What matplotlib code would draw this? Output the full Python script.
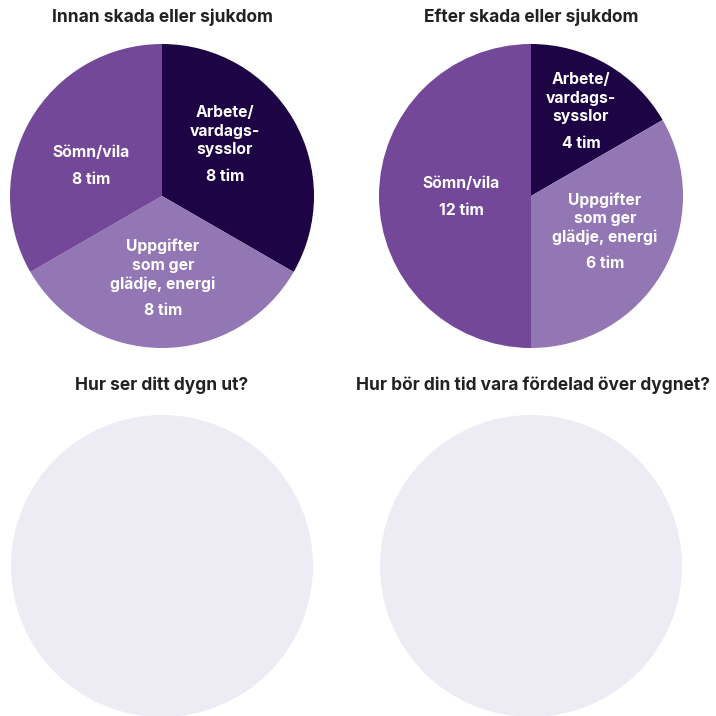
import matplotlib
matplotlib.use("Agg")
import matplotlib.pyplot as plt

plt.rcParams['font.family'] = ['Inter', 'DejaVu Sans']

# data
categories = ["Arbete/\nvardags-\nsysslor", "Uppgifter\nsom ger\nglädje, energi", "Sömn/vila"]
hours_before = [8, 8, 8]
slices_after = [4, 8, 12]          # slice sizes as drawn in the picture
hours_after = [4, 6, 12]           # hours printed on the slices
titles = ["Innan skada eller sjukdom", "Efter skada eller sjukdom",
          "Hur ser ditt dygn ut?", "Hur bör din tid vara fördelad över dygnet?"]

colors = ["#1d0444", "#9277b4", "#734899"]
empty_col = "#edebf4"
W = H = 716

fig = plt.figure(figsize=(7.16, 7.16), dpi=100)
ax = fig.add_axes([0, 0, 1, 1])

R = 152
centers = [(162, 196), (531, 196), (162, 566), (531, 566)]
# label offsets from pie centre (px, screen down = +)
offs_before = [(63, -83), (1, 51), (-71, -43)]
offs_after = [(50, -116), (74, 4), (-70, -12)]
LINE = 18.5


def draw_pie(cx, cy, sizes, hours, offs):
    c = (cx, H - cy)
    ax.pie(sizes, colors=colors, center=c, radius=R, startangle=90,
           counterclock=False, wedgeprops=dict(linewidth=0))
    for name, h, (dx, dy) in zip(categories, hours, offs):
        x = cx + dx
        y0 = cy + dy
        nl = name.count("\n")
        ax.text(x, H - (y0 - 8), name, ha="center", va="top", color="white",
                fontsize=11.3, fontweight="bold", linespacing=1.3)
        ax.text(x, H - (y0 + nl * LINE + 27 - 8), f"{h} tim", ha="center", va="top",
                color="white", fontsize=11.3, fontweight="bold")


draw_pie(*centers[0], hours_before, hours_before, offs_before)
draw_pie(*centers[1], slices_after, hours_after, offs_after)

for cx, cy in centers[2:]:
    ax.add_patch(plt.Circle((cx, H - cy), R - 1, color=empty_col, lw=0))

title_y = [17, 17, 385, 385]
title_x = [162, 531, 162, 533]
for t, tx, ty in zip(titles, title_x, title_y):
    ax.text(tx, H - ty, t, ha="center", va="center", fontsize=12.5,
            fontweight="bold", color="#222222")

ax.set_xlim(0, W)
ax.set_ylim(0, H)
ax.set_aspect("equal")
ax.axis("off")

fig.savefig("out.png", dpi=100)
